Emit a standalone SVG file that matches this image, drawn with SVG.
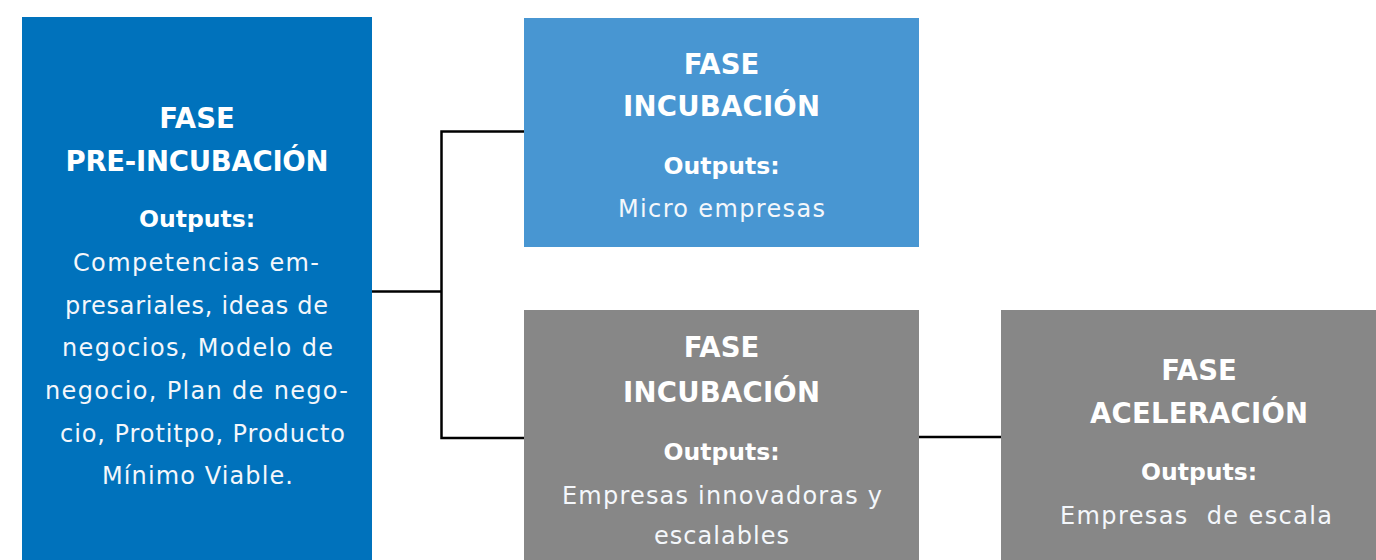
<svg xmlns="http://www.w3.org/2000/svg" width="1376" height="560" viewBox="0 0 1376 560">
  <style>
    .title { font-family: "DejaVu Sans", "Liberation Sans", sans-serif; font-weight: bold; font-size: 27.5px; fill: #ffffff; text-anchor: middle; }
    .out { font-family: "DejaVu Sans", "Liberation Sans", sans-serif; font-weight: bold; font-size: 23.5px; fill: #ffffff; text-anchor: middle; }
    .body { font-family: "DejaVu Sans", "Liberation Sans", sans-serif; font-size: 24px; fill: #f4f7fb; text-anchor: middle; }
    .conn { fill: none; stroke: #000000; stroke-width: 2.5; }
  </style>
  <rect x="0" y="0" width="1376" height="560" fill="#ffffff"/>

  <g id="connectors">
    <path class="conn" d="M524,131.5 H441.5 V438 H524"/>
    <path class="conn" d="M372,291.5 H441.5"/>
    <path class="conn" d="M919,437 H1001"/>
  </g>

  <g id="pre-incubacion">
    <rect x="22" y="17" width="350" height="543" fill="#0072bc"/>
    <text class="title" x="197" y="128">FASE</text>
    <text class="title" x="197" y="171" textLength="263" lengthAdjust="spacing">PRE-INCUBACIÓN</text>
    <text class="out" x="197" y="227">Outputs:</text>
    <text class="body" x="196" y="271" textLength="246" lengthAdjust="spacing">Competencias em-</text>
    <text class="body" x="196.5" y="313.5" textLength="263" lengthAdjust="spacing">presariales, ideas de</text>
    <text class="body" x="197.5" y="356" textLength="271" lengthAdjust="spacing">negocios, Modelo de</text>
    <text class="body" x="196.5" y="398.5" textLength="303" lengthAdjust="spacing">negocio, Plan de nego-</text>
    <text class="body" x="202.5" y="441.5" textLength="285" lengthAdjust="spacing">cio, Protitpo, Producto</text>
    <text class="body" x="197.5" y="483.5" textLength="191" lengthAdjust="spacing">Mínimo Viable.</text>
  </g>

  <g id="incubacion-micro">
    <rect x="524" y="18" width="395" height="229" fill="#4896d2"/>
    <text class="title" x="721.5" y="73.5">FASE</text>
    <text class="title" x="721.5" y="116" textLength="197" lengthAdjust="spacing">INCUBACIÓN</text>
    <text class="out" x="721.5" y="173.5">Outputs:</text>
    <text class="body" x="721.5" y="216.5" textLength="207" lengthAdjust="spacing">Micro empresas</text>
  </g>

  <g id="incubacion-innovadoras">
    <rect x="524" y="310" width="395" height="250" fill="#878787"/>
    <text class="title" x="721.5" y="357">FASE</text>
    <text class="title" x="721.5" y="401.5" textLength="197" lengthAdjust="spacing">INCUBACIÓN</text>
    <text class="out" x="721.5" y="459.5">Outputs:</text>
    <text class="body" x="722" y="503.5" textLength="320" lengthAdjust="spacing">Empresas innovadoras y</text>
    <text class="body" x="721.5" y="543.5" textLength="135" lengthAdjust="spacing">escalables</text>
  </g>

  <g id="aceleracion">
    <rect x="1001" y="310" width="375" height="250" fill="#878787"/>
    <text class="title" x="1199" y="379.5">FASE</text>
    <text class="title" x="1199" y="422.5" textLength="218" lengthAdjust="spacing">ACELERACIÓN</text>
    <text class="out" x="1199" y="480">Outputs:</text>
    <text class="body" x="1196" y="523.5" textLength="272" lengthAdjust="spacing" xml:space="preserve">Empresas  de escala</text>
  </g>
</svg>
